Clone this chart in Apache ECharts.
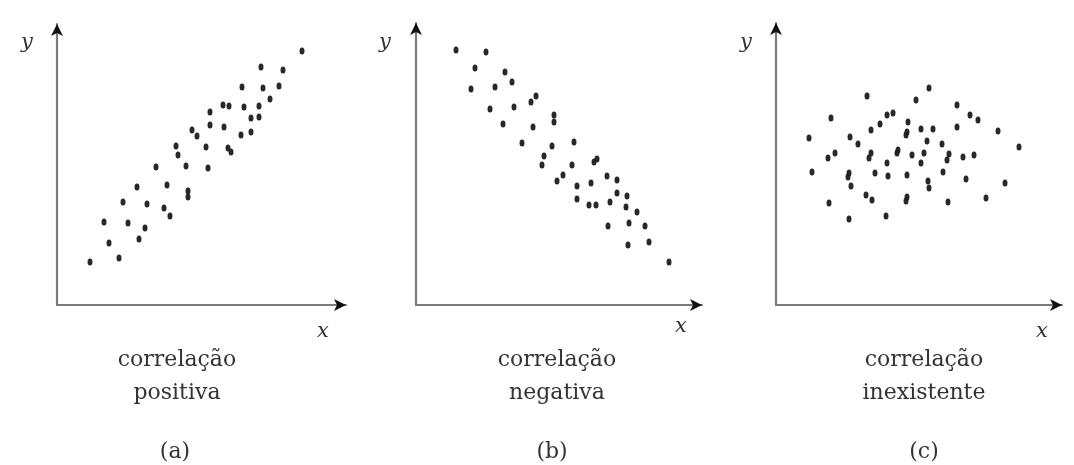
<!DOCTYPE html>
<html><head><meta charset="utf-8">
<script src="https://cdn.jsdelivr.net/npm/echarts@6/dist/echarts.min.js"></script>
<style>html,body{margin:0;padding:0;background:#fff}#c{width:1074px;height:465px}</style>
</head><body><div id="c"></div>
<script>
// Panel (a): positive correlation  [x, y] in arbitrary axis units
const positiva = [[245,254],[204,238],[226,235],[185,218],[206,217],[222,219],[213,206],[166,200],[172,199],[187,198],[202,199],[153,193],[194,187],[202,188],[153,180],[167,178],[135,175],[140,169],[184,170],[194,173],[119,159],[149,158],[171,157],[174,153],[121,150],[99,138],[129,139],[151,137],[80,118],[110,120],[131,114],[131,108],[66,103],[90,101],[107,97],[113,89],[47,83],[71,82],[88,77],[52,62],[82,66],[62,47],[33,43]];
// Panel (b): negative correlation
const negativa = [[40,255],[70,253],[59,237],[89,233],[96,223],[55,216],[79,218],[120,209],[115,203],[74,196],[98,198],[138,190],[138,183],[87,181],[117,178],[106,162],[136,159],[158,163],[128,149],[126,140],[156,140],[178,143],[181,146],[147,130],[141,124],[191,129],[201,125],[161,119],[175,122],[201,112],[211,109],[161,106],[173,100],[180,100],[194,103],[210,98],[221,93],[192,79],[213,82],[229,79],[212,60],[233,63],[253,43]];
// Panel (c): no correlation
const inexistente = [[153,217],[91,209],[140,205],[181,200],[111,190],[117,192],[194,190],[202,185],[55,187],[104,181],[132,183],[95,175],[131,173],[145,176],[157,176],[181,178],[222,174],[130,170],[33,167],[74,168],[82,161],[151,164],[166,161],[243,158],[122,155],[59,152],[52,147],[95,152],[136,150],[148,152],[173,151],[187,148],[198,150],[93,147],[121,152],[111,142],[145,142],[171,145],[36,133],[73,132],[99,132],[112,129],[131,130],[167,133],[72,128],[152,124],[190,126],[229,122],[75,119],[153,117],[90,110],[96,105],[131,108],[130,104],[53,102],[172,103],[210,107],[73,86],[110,89]];
const captions = [["correlação","positiva"],["correlação","negativa"],["correlação","inexistente"]];
const panelLabels = ["(a)","(b)","(c)"];
const axisNames = ["x","y"];
const axisMaxX = [289,286,286];
const axisMaxY = [281,282,282];

const grids = [
  {left:57, top:24, width:289, height:281},
  {left:416, top:23, width:286, height:282},
  {left:776, top:23, width:286, height:282}
];
const datasets = [positiva, negativa, inexistente];
const grayLine = {show:true, lineStyle:{color:'#7c7c7c', width:2.2}, symbol:'none'};
const arrowLine = {show:true, lineStyle:{color:'#111111', width:0.01}, symbol:['none','arrow'], symbolSize:[9,12], symbolOffset:[0,0]};
const hidden = {axisTick:{show:false}, axisLabel:{show:false}, splitLine:{show:false}};
const xAxes = [], yAxes = [];
grids.forEach((g,i)=>{
  xAxes.push(Object.assign({gridIndex:i, type:'value', min:0, max:axisMaxX[i], axisLine:grayLine, position:'bottom'}, hidden));
  xAxes.push(Object.assign({gridIndex:i, type:'value', min:0, max:axisMaxX[i], axisLine:arrowLine, position:'bottom', offset:0}, hidden));
  yAxes.push(Object.assign({gridIndex:i, type:'value', min:0, max:axisMaxY[i], axisLine:grayLine, position:'left'}, hidden));
  yAxes.push(Object.assign({gridIndex:i, type:'value', min:0, max:axisMaxY[i], axisLine:arrowLine, position:'left', offset:0}, hidden));
});
const series = datasets.map((d,i)=>({type:'scatter', xAxisIndex:2*i, yAxisIndex:2*i, data:d, symbol:'circle', symbolSize:[5,7], itemStyle:{color:'#1c1c1c', opacity:0.95}, silent:true}));

const serif = '"DejaVu Serif","Liberation Serif",serif';
const textColor = '#333333';
const graphics = [];
const capCenters = [177, 557, 924];
const labelCenters = [175, 552, 924];
const varPos = [[27,43,323,332],[385,43,681,327],[746,43,1042,332]];
capCenters.forEach((cx,i)=>{
  graphics.push({type:'text', x:cx, y:360, style:{text:captions[i][0], font:'22px '+serif, fill:textColor, align:'center', verticalAlign:'middle'}});
  graphics.push({type:'text', x:cx, y:393, style:{text:captions[i][1], font:'22px '+serif, fill:textColor, align:'center', verticalAlign:'middle'}});
  graphics.push({type:'text', x:labelCenters[i], y:452, style:{text:panelLabels[i], font:'22px '+serif, fill:textColor, align:'center', verticalAlign:'middle'}});
  const v = varPos[i];
  graphics.push({type:'text', x:v[0], y:v[1], style:{text:axisNames[1], font:'italic 21px '+serif, fill:textColor, align:'center', verticalAlign:'middle'}});
  graphics.push({type:'text', x:v[2], y:v[3], style:{text:axisNames[0], font:'italic 21px '+serif, fill:textColor, align:'center', verticalAlign:'middle'}});
});

const chart = echarts.init(document.getElementById('c'), null, {renderer:'canvas'});
chart.setOption({
  animation:false,
  backgroundColor:'#ffffff',
  grid:grids,
  xAxis:xAxes,
  yAxis:yAxes,
  series:series,
  graphic:graphics
});
</script></body></html>
